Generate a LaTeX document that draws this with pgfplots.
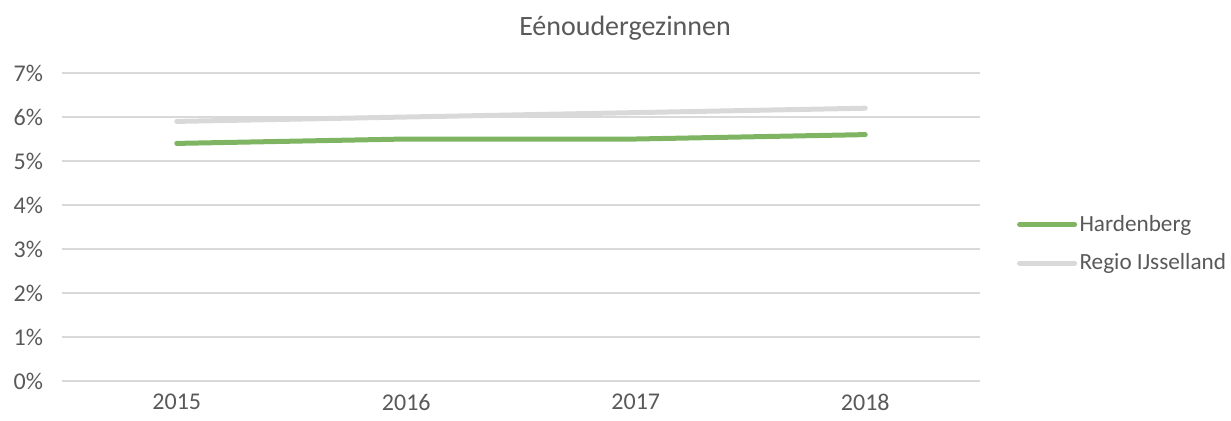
\documentclass[border=0pt]{standalone}
\usepackage{pgfplots}
\pgfplotsset{compat=1.18}
\usepackage{fontspec}
\setmainfont{Carlito}
\definecolor{txt}{HTML}{595959}
\definecolor{gridc}{HTML}{D9D9D9}
\definecolor{green1}{HTML}{7EB462}
\definecolor{grey1}{HTML}{D9D9D9}
\begin{document}
\begin{tikzpicture}
\useasboundingbox (0,0) rectangle (615.5bp,210.5bp);
\begin{axis}[
  at={(31bp,20bp)}, anchor=south west,
  scale only axis, width=459bp, height=154bp,
  xmin=-0.5, xmax=3.5, ymin=0, ymax=7,
  xtick={0,1,2,3}, xticklabels={2015,2016,2017,2018},
  ytick={0,1,...,7},
  yticklabel={\pgfmathprintnumber{\tick}\%},
  /pgf/number format/assume math mode=true,
  axis line style={draw=none},
  major tick style={draw=none},
  ymajorgrids, major grid style={gridc, line width=1bp},
  tick label style={font=\fontsize{12bp}{14bp}\selectfont, text=txt},
  yticklabel style={xshift=-6bp},
  xticklabel style={yshift=-5.5bp, inner sep=1bp},
  legend style={at={(1.04,0.445)}, anchor=west, draw=none, fill=none,
    font=\fontsize{11.6bp}{14bp}\selectfont, text=txt, row sep=7.5bp, inner sep=0pt,
    nodes={inner sep=1.2bp},
    /tikz/every odd column/.append style={column sep=0bp}},
  legend cell align=left,
  legend image code/.code={\draw[#1, line cap=round] (0bp,0bp) -- (27.5bp,0bp);},
]
\addplot[green1, line width=2.5bp, line cap=round] coordinates {(0,5.4) (1,5.5) (2,5.5) (3,5.6)};
\addlegendentry{Hardenberg}
\addplot[grey1, line width=2.5bp, line cap=round] coordinates {(0,5.9) (1,6.0) (2,6.1) (3,6.2)};
\addlegendentry{Regio IJsselland}
\end{axis}
\node[text=txt, font=\fontsize{14bp}{16bp}\selectfont] at (312.5bp,196.5bp) {Eénoudergezinnen};
\end{tikzpicture}
\end{document}
